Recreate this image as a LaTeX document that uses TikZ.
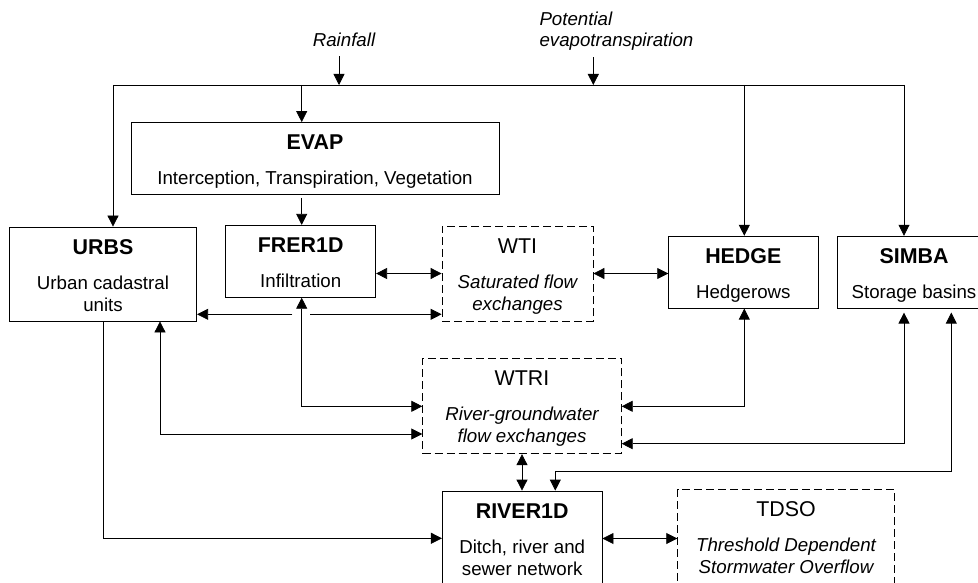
\documentclass[tikz,border=0pt]{standalone}
\usepackage{fontspec}
\setmainfont{Liberation Sans}
\usetikzlibrary{arrows.meta}
\newcommand{\ttl}[1]{\rule{0pt}{21pt}{\fontsize{21.4}{22}\selectfont #1}}
\newcommand{\dpt}{\rule[-4pt]{0pt}{4pt}}

\begin{document}
\begin{tikzpicture}[x=1pt, y=-1pt,
        mod/.style={draw, line width=0.8pt, inner sep=0pt, align=center,
            font=\fontsize{18.7}{22}\selectfont},
        modx/.style={mod, dash pattern=on 8pt off 4pt},
        lbl/.style={inner sep=0pt, font=\fontsize{18.7}{21}\selectfont\itshape},
        wire/.style={line width=0.8pt},
        flow/.style={wire, -{Triangle[length=11pt,width=11pt]}},
        flows/.style={wire, {Triangle[length=11pt,width=11pt]}-{Triangle[length=11pt,width=11pt]}}
    ]
        \useasboundingbox (0,0) rectangle (978,583);
        \clip (0,0) rectangle (978,583);

        \node[lbl, anchor=base] (rain) at (344,46.7) {Rainfall};
        \node[lbl, anchor=north west, align=left] (pet) at (539.3,11.4) {Potential\\evapotranspiration};

        \node[mod, minimum width=368pt, minimum height=72pt] (evap) at (315,158.5)
            {\ttl{\bfseries EVAP}\\[13pt]Interception, Transpiration, Vegetation\dpt};
        \node[mod, minimum width=187.4pt, minimum height=94pt] (urbs) at (103,274)
            {\ttl{\bfseries URBS}\\[13pt]Urban cadastral\\units\dpt};
        \node[mod, minimum width=150pt, minimum height=72pt] (frer) at (300.7,261.3)
            {\ttl{\bfseries FRER1D}\\[13pt]Infiltration\dpt};
        \node[modx, minimum width=151pt, minimum height=95pt] (wti) at (517.5,273.5)
            {\ttl{WTI}\\[13pt]\itshape Saturated flow\\\itshape exchanges\dpt};
        \node[mod, minimum width=149.3pt, minimum height=72pt] (hedge) at (743.3,272.2)
            {\ttl{\bfseries HEDGE}\\[13pt]Hedgerows\dpt};
        \node[mod, minimum width=152.6pt, minimum height=72pt] (simba) at (914,272.2)
            {\ttl{\bfseries SIMBA}\\[13pt]Storage basins\dpt};
        \node[modx, minimum width=198.6pt, minimum height=95.7pt] (wtri) at (522,405.9)
            {\ttl{WTRI}\\[13pt]\itshape River-groundwater\\\itshape flow exchanges\dpt};
        \node[mod, minimum width=159.7pt, minimum height=95pt] (river) at (522.2,538.5)
            {\ttl{\bfseries RIVER1D}\\[13pt]Ditch, river and\\sewer network\dpt};
        \node[modx, minimum width=216.6pt, minimum height=95pt] (tdso) at (786,536.8)
            {\ttl{TDSO}\\[13pt]\itshape Threshold Dependent\\\itshape Stormwater Overflow\dpt};

        \coordinate (tU) at (113,85);
        \coordinate (tE) at (301.7,85);
        \coordinate (tR) at (339,85);
        \coordinate (tP) at (593.3,85);
        \coordinate (tH) at (744.3,85);
        \coordinate (tS) at (904,85);
        \draw[wire] (tU) -- (tS);
        \draw[flow] ([yshift=-9pt]rain.south -| tR) -- (tR);
        \draw[flow] ([yshift=-7pt]pet.south -| tP) -- (tP);
        \draw[flow] (tU) -- (tU |- urbs.north);
        \draw[flow] (tE) -- (tE |- evap.north);
        \draw[flow] (tH) -- (tH |- hedge.north);
        \draw[flow] (tS) -- (tS |- simba.north);
        \draw[flow, shorten <=3pt] (tE |- evap.south) -- (tE |- frer.north);

        \draw[flows] (frer.east |- wti.west) -- (wti.west);
        \draw[flows] (wti.east) -- (wti.east -| hedge.west);

        \coordinate (hopL) at (292.3,314.3);
        \coordinate (hopR) at (310,314.3);
        \draw[flow] (hopL) -- (hopL -| urbs.east);
        \draw[flow] (hopR) -- (hopR -| wti.west);

        \coordinate (cF) at (301.7,406.3);
        \coordinate (cU) at (160,434);
        \coordinate (cR) at (103,538.3);
        \draw[flows] (cF |- frer.south) -- (cF) -- (cF -| wtri.west);
        \draw[flows] (cU |- urbs.south) -- (cU) -- (cU -| wtri.west);
        \draw[flow] (urbs.south) -- (cR) -- (cR -| river.west);

        \coordinate (cH) at (744.3,406.3);
        \coordinate (cS) at (904,443.7);
        \coordinate (cB) at (951.3,471.3);
        \coordinate (cD) at (555.3,471.3);
        \draw[flows] (cH |- hedge.south) -- (cH) -- (cH -| wtri.east);
        \draw[flows, shorten <=4pt] (cS |- simba.south) -- (cS) -- (cS -| wtri.east);
        \draw[flows, shorten <=4pt] (cB |- simba.south) -- (cB) -- (cD) -- (cD |- river.north);

        \draw[flows] (wtri.south) -- (wtri.south |- river.north);
        \draw[flows] (river.east) -- (river.east -| tdso.west);
    \end{tikzpicture}
\end{document}
